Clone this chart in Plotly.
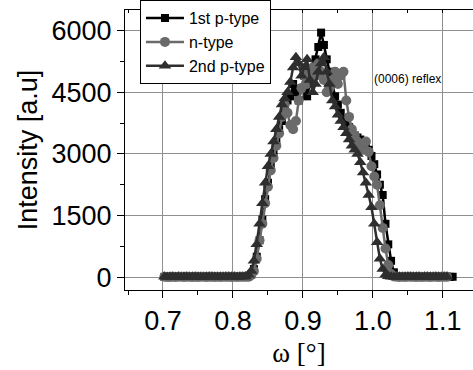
import plotly.graph_objects as go

omega = [0.702, 0.706,
         0.710, 0.714, 0.718, 0.722, 0.726, 0.730, 0.734, 0.738, 0.742, 0.746,
         0.750, 0.754, 0.758, 0.762, 0.766, 0.770, 0.774, 0.778, 0.782, 0.786,
         0.790, 0.794, 0.798, 0.802, 0.806, 0.810, 0.814, 0.818, 0.822, 0.826,
         0.830, 0.834, 0.838, 0.842, 0.846, 0.850, 0.854, 0.858, 0.862, 0.866,
         0.870, 0.874, 0.878, 0.882, 0.886, 0.890, 0.894, 0.898, 0.902, 0.906,
         0.910, 0.914, 0.918, 0.922, 0.926, 0.930, 0.934, 0.938, 0.942, 0.946,
         0.950, 0.954, 0.958, 0.962, 0.966, 0.970, 0.974, 0.978, 0.982, 0.986,
         0.990, 0.994, 0.998, 1.002, 1.006, 1.010, 1.014, 1.018, 1.022, 1.026,
         1.030, 1.034, 1.038, 1.042, 1.046, 1.050, 1.054, 1.058, 1.062, 1.066,
         1.070, 1.074, 1.078, 1.082, 1.086, 1.090, 1.094, 1.098, 1.102, 1.106,
         1.110, 1.114]

p1_type = [10, 13,
           12, 8, 15, 10, 6, 14, 9, 11, 7, 13, 10, 8, 12, 9, 15, 11, 7, 10, 13, 8,
           12, 9, 14, 10, 11, 8, 13, 15,
           20, 60, 200, 500, 900, 1400, 1900, 2300, 2700, 3000,
           3300, 3600, 3800, 4100, 4300, 4400, 4700, 4500, 4300, 4600,
           4900, 4400, 4700, 5000, 5300, 5600, 5950, 5650, 5300, 5000,
           4700, 4400, 4200, 4000, 3850, 3750, 3650, 3550, 3450, 3400,
           3350, 3250, 3150, 3100, 2950, 2750, 2500, 2250, 2000, 1300,
           800, 400, 120, 30,
           15, 9, 12, 7, 10, 14, 8, 11, 13, 9, 10, 12, 7, 15, 9, 11, 8, 13, 10, 12]

n_type = [11, 8,
          9, 13, 7, 11, 14, 8, 12, 10, 9, 15, 7, 11, 13, 8, 10, 12, 9, 14, 7, 11,
          10, 13, 8, 12, 9, 14, 10, 12,
          10, 50, 150, 450, 900, 1300, 1800, 2200, 2600, 2900,
          3200, 3500, 3900, 4200, 4000, 3700, 3600, 3800, 4300, 4600,
          4900, 4700, 5000, 5100, 4900, 5200, 5000, 4800, 4500, 4600,
          4800, 5000, 4700, 4900, 5000, 4300, 3900, 3600, 3450, 3300,
          3200, 3100, 3300, 3050, 2700, 2450, 2250, 1750, 1200, 700,
          300, 80,
          20, 12, 9, 14, 8, 11, 13, 10, 7, 12, 9, 15, 10, 8, 13, 11, 9, 12, 14, 10]

p2_type = [12, 9,
           14, 10, 8, 12, 9, 13, 11, 7, 15, 10, 12, 9, 8, 14, 11, 13, 10, 9, 12, 8,
           15, 11, 10, 13, 9, 12, 14, 20,
           60, 150, 400, 800, 1300, 1800, 2300, 2700, 3000, 3300,
           3600, 3900, 4200, 4350, 4500, 4750, 5100, 5350, 5200, 4900,
           5100, 5300, 4800, 4500, 4700, 5000, 5200, 5350, 5000, 4700,
           4300, 4150, 3950, 3800, 3650, 3500, 3350, 3200, 3100, 3000,
           2800, 2550, 2300, 2000, 1700, 1300, 850, 450, 200, 60,
           25, 12, 9, 14, 10, 8, 13, 11, 12, 9, 15, 10, 8, 12, 11, 13, 9, 10, 14, 8, 12, 10]

series_names = ["1st p-type", "n-type", "2nd p-type"]
series_vals = [p1_type, n_type, p2_type]
colors = ["#000000", "#6a6a6a", "#2e2e2e"]
symbols = ["square", "circle", "triangle-up"]
sizes = [8, 10, 11]

x_ticks = [0.7, 0.8, 0.9, 1.0, 1.1]
x_ticklabels = ["0.7", "0.8", "0.9", "1.0", "1.1"]
y_ticks = [0, 1500, 3000, 4500, 6000]

fig = go.Figure()
for name, vals, c, s, sz in zip(series_names, series_vals, colors, symbols, sizes):
    fig.add_trace(go.Scatter(
        x=omega, y=vals, name=name, mode="lines+markers",
        line=dict(color=c, width=2.5),
        marker=dict(symbol=s, size=sz, color=c, line=dict(width=0)),
    ))

# mirrored top ticks (inside)
fig.add_trace(go.Scatter(x=[None], y=[None], xaxis="x2", showlegend=False))

font = "Liberation Sans, Arial, sans-serif"
fig.update_layout(
    width=473, height=370,
    margin=dict(l=125, r=0, t=4, b=80),
    paper_bgcolor="white", plot_bgcolor="white",
    font=dict(family=font, color="black"),
    showlegend=True,
    legend=dict(
        x=0.043, y=1.035, xanchor="left", yanchor="top",
        bgcolor="white", bordercolor="black", borderwidth=1,
        font=dict(size=16, family=font),
        itemwidth=38, tracegroupgap=0,
    ),
    xaxis=dict(
        range=[0.6457, 1.1431],
        tickvals=x_ticks, ticktext=x_ticklabels,
        ticks="outside", ticklen=7, tickwidth=1, tickcolor="black",
        showline=True, linecolor="black", linewidth=1, mirror=True,
        showgrid=True, gridcolor="#8f8f8f", gridwidth=1,
        zeroline=False,
        tickfont=dict(size=27, family=font),
        minor=dict(dtick=0.05, tick0=0.65, ticks="outside", ticklen=4, tickcolor="black", showgrid=False),
        title=dict(text="ω [°]", font=dict(size=27, family="Liberation Serif, Times New Roman, serif"), standoff=7),
    ),
    xaxis2=dict(
        overlaying="x", side="top", matches="x", range=[0.6457, 1.1431],
        tickvals=[0.65, 0.7, 0.75, 0.8, 0.85, 0.9, 0.95, 1.0, 1.05, 1.1],
        ticks="inside", ticklen=3, tickcolor="black", showticklabels=False,
        showgrid=False, showline=False, zeroline=False,
    ),
    yaxis=dict(
        range=[-310, 6500],
        tickvals=y_ticks,
        ticks="outside", ticklen=7, tickwidth=1, tickcolor="black",
        showline=True, linecolor="black", linewidth=1, mirror=True,
        showgrid=True, gridcolor="#8f8f8f", gridwidth=1,
        zeroline=False,
        tickfont=dict(size=27, family=font),
        minor=dict(dtick=750, tick0=0, ticks="outside", ticklen=4, tickcolor="black", showgrid=False),
        title=dict(text="Intensity [a.u]", font=dict(size=27, family=font), standoff=6),
    ),
    annotations=[dict(
        x=0.999, y=4810, xref="x", yref="y", text="(0006) reflex",
        showarrow=False, xanchor="left", yanchor="middle",
        font=dict(size=12, family=font, color="black"),
    )],
)

fig.write_html("out.html")
